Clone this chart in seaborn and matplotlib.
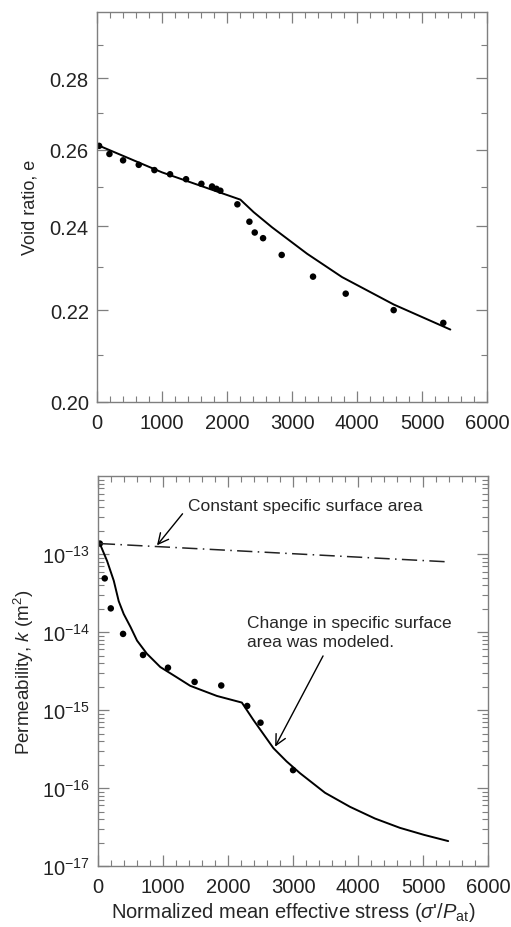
import matplotlib
matplotlib.use("Agg")
import matplotlib.pyplot as plt
import matplotlib.ticker as mticker
import numpy as np
import pandas as pd
import seaborn as sns

# void ratio test data and model
E_PTS_X = [31, 190, 400, 641, 882, 1123, 1369, 1605, 1769, 1836, 1897,
           2159, 2344, 2426, 2554, 2841, 3323, 3826, 4564, 5328]
E_PTS_Y = [0.2610, 0.2588, 0.2571, 0.2559, 0.2545, 0.2534, 0.2521, 0.2509,
           0.2502, 0.2496, 0.2491, 0.2456, 0.2412, 0.2385, 0.2371, 0.2330,
           0.2278, 0.2238, 0.2200, 0.2171]
E_LINE_X = [10, 1000, 2205, 2410, 2692, 3231, 3769, 4564, 5436]
E_LINE_Y = [0.2612, 0.2539, 0.2468, 0.2436, 0.2398, 0.2333, 0.2277, 0.2213, 0.2156]

# permeability test data and models
K_PTS_X = [26, 102, 195, 384, 691, 1075, 1485, 1895, 2294, 2499, 3000]
K_PTS_Y = [1.37e-13, 4.9e-14, 2.02e-14, 9.5e-15, 5.1e-15, 3.5e-15, 2.3e-15,
           2.07e-15, 1.13e-15, 6.9e-16, 1.7e-16]
K_LINE_X = [26, 138, 241, 317, 394, 500, 599, 750, 957, 1200, 1418, 1828,
            2212, 2391, 2698, 2900, 3108, 3492, 3876, 4260, 4644, 5016, 5387]
K_LINE_Y = [1.37e-13, 8.2e-14, 4.57e-14, 2.5e-14, 1.71e-14, 1.16e-14,
            7.8e-15, 5.3e-15, 3.57e-15, 2.67e-15, 2.05e-15, 1.52e-15,
            1.25e-15, 7.45e-16, 3.25e-16, 2.2e-16, 1.55e-16, 8.7e-17,
            5.75e-17, 4.07e-17, 3.09e-17, 2.51e-17, 2.09e-17]
K_CONST_X = [26, 5387]
K_CONST_Y = [1.37e-13, 7.98e-14]

E_TICKS = [0.20, 0.22, 0.24, 0.26, 0.28]
E_MINOR = [0.21, 0.23, 0.25, 0.27, 0.29]
K_TICKS = [1e-17, 1e-16, 1e-15, 1e-14, 1e-13]

sns.set_theme(style="ticks")
plt.rcParams["font.family"] = ["Liberation Sans", "DejaVu Sans"]
plt.rcParams["mathtext.fontset"] = "custom"
plt.rcParams["mathtext.rm"] = "Liberation Sans"
plt.rcParams["mathtext.it"] = "Liberation Sans:italic"
plt.rcParams["axes.unicode_minus"] = False

grey = "#7f7f7f"
fs = 13
tick_fs = 14.5

fig = plt.figure(figsize=(5.11, 9.28), dpi=100)
ax1 = fig.add_axes([0.190, 0.566, 0.763, 0.420])
ax2 = fig.add_axes([0.192, 0.0657, 0.763, 0.420])


def style_axes(ax):
    for s in ax.spines.values():
        s.set_color(grey)
        s.set_linewidth(1.0)
    ax.tick_params(which="both", direction="in", top=True, right=True,
                   color=grey, labelsize=tick_fs, labelcolor="#222222")
    ax.tick_params(which="major", length=8, width=0.9)
    ax.tick_params(which="minor", length=4, width=0.8)
    ax.tick_params(axis="x", which="major", pad=8)
    ax.tick_params(axis="y", which="major", pad=6)
    ax.set_xlim(0, 6000)
    ax.xaxis.set_major_locator(mticker.MultipleLocator(1000))
    ax.xaxis.set_minor_locator(mticker.MultipleLocator(200))


# top panel: void ratio
df_el = pd.DataFrame({"x": E_LINE_X, "y": E_LINE_Y})
df_ep = pd.DataFrame({"x": E_PTS_X, "y": E_PTS_Y})
sns.lineplot(data=df_el, x="x", y="y", ax=ax1, color="black", lw=1.4, sort=False)
sns.scatterplot(data=df_ep, x="x", y="y", ax=ax1, color="black", s=22,
                edgecolor="none")
ax1.set_yscale("log")
ax1.set_ylim(0.20, 0.30)
style_axes(ax1)
ax1.yaxis.set_major_locator(mticker.FixedLocator(E_TICKS))
ax1.yaxis.set_minor_locator(mticker.FixedLocator(E_MINOR))
ax1.yaxis.set_major_formatter(mticker.FormatStrFormatter("%.2f"))
ax1.yaxis.set_minor_formatter(mticker.NullFormatter())
ax1.set_xlabel("")
ax1.set_ylabel("Void ratio, e", fontsize=fs, labelpad=8)

# bottom panel: permeability
df_kl = pd.DataFrame({"x": K_LINE_X, "y": K_LINE_Y})
df_kc = pd.DataFrame({"x": K_CONST_X, "y": K_CONST_Y})
df_kp = pd.DataFrame({"x": K_PTS_X, "y": K_PTS_Y})
sns.lineplot(data=df_kl, x="x", y="y", ax=ax2, color="black", lw=1.4, sort=False)
sns.lineplot(data=df_kc, x="x", y="y", ax=ax2, color="#222222", lw=1.1, sort=False,
             linestyle=(0, (10, 3.5, 1, 3.5)))
sns.scatterplot(data=df_kp, x="x", y="y", ax=ax2, color="black", s=22,
                edgecolor="none")
ax2.set_yscale("log")
ax2.set_ylim(1e-17, 1e-12)
style_axes(ax2)
ax2.yaxis.set_major_locator(mticker.FixedLocator(K_TICKS))
ax2.yaxis.set_major_formatter(mticker.LogFormatterSciNotation())
ax2.yaxis.set_minor_locator(mticker.LogLocator(base=10, subs=np.arange(2, 10), numticks=20))
ax2.yaxis.set_minor_formatter(mticker.NullFormatter())
ax2.set_xlabel(r"Normalized mean effective stress ($\sigma$'/$P_{\rm at}$)",
               fontsize=14.5, labelpad=3)
ax2.set_ylabel(r"Permeability, $k$ (m$^2$)", fontsize=13.5, labelpad=4)

arrow = dict(arrowstyle="->,head_length=0.6,head_width=0.3", color="black",
             lw=1.0, shrinkB=0)
ax2.annotate("Constant specific surface area", xy=(906, 1.3e-13),
             xytext=(1390, 4.2e-13), fontsize=12.5, ha="left", va="center",
             arrowprops=dict(arrow, shrinkA=3, relpos=(-0.01, 0.25)))
ax2.annotate("Change in specific surface\narea was modeled.", xy=(2724, 3.4e-16),
             xytext=(2290, 1.0e-14), fontsize=12.5, ha="left", va="center",
             linespacing=1.3,
             arrowprops=dict(arrow, shrinkA=3, relpos=(0.39, 0.0)))

fig.savefig("out.png", dpi=100, facecolor="white")
